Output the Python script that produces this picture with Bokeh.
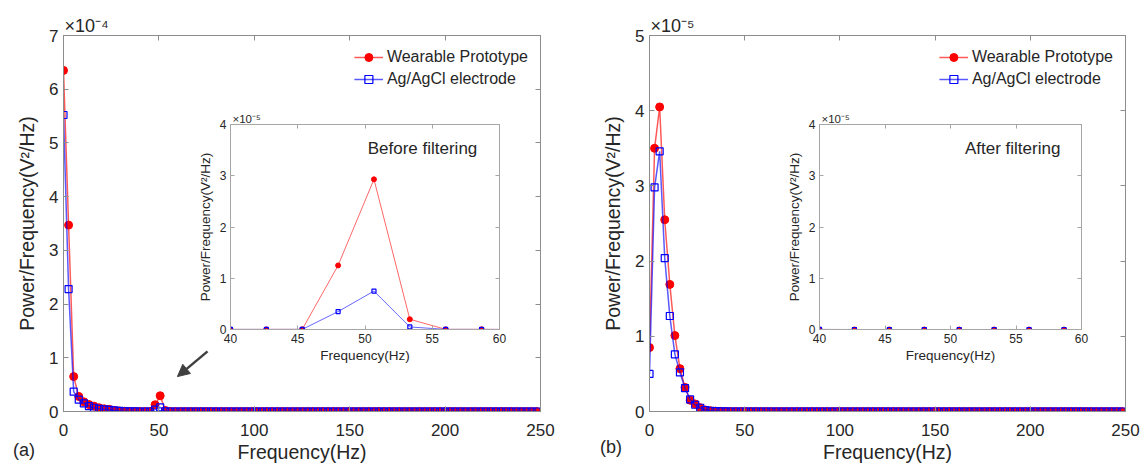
from bokeh.plotting import figure
from bokeh.models import (GridBox, Legend, LegendItem, Label, Arrow, NormalHead,
                          FixedTicker, LinearAxis, CustomJSTickFormatter, Range1d,
                          Title, Div)
from bokeh.embed import file_html
from bokeh.resources import INLINE

# ---------------- data ----------------
freq_step = 8 / 3  # Hz between PSD bins
n_bins = 94

# (a) before filtering, PSD in units of 1e-4 V^2/Hz
wear_a = [6.35, 3.47, 0.65, 0.28, 0.18, 0.13, 0.10, 0.07, 0.05, 0.04,
          0.02, 0.01, 0.005, 0.002, 0.001, 0.0002, 0.0002, 0.0003, 0.125, 0.293,
          0.020, 0.0003, 0.0003, 0, 0, 0, 0, 0, 0, 0,
          0, 0, 0, 0, 0, 0, 0, 0, 0, 0,
          0, 0, 0, 0, 0, 0, 0, 0, 0, 0,
          0, 0, 0, 0, 0, 0, 0, 0, 0, 0,
          0, 0, 0, 0, 0, 0, 0, 0, 0, 0,
          0, 0, 0, 0, 0, 0, 0, 0, 0, 0,
          0, 0, 0, 0, 0, 0, 0, 0, 0, 0,
          0, 0, 0, 0]
agcl_a = [5.52, 2.28, 0.37, 0.22, 0.15, 0.10, 0.07, 0.05, 0.04, 0.03,
          0.02, 0.01, 0.005, 0.002, 0.001, 0.0002, 0.0002, 0.0002, 0.035, 0.075,
          0.005, 0.0002, 0.0002, 0, 0, 0, 0, 0, 0, 0,
          0, 0, 0, 0, 0, 0, 0, 0, 0, 0,
          0, 0, 0, 0, 0, 0, 0, 0, 0, 0,
          0, 0, 0, 0, 0, 0, 0, 0, 0, 0,
          0, 0, 0, 0, 0, 0, 0, 0, 0, 0,
          0, 0, 0, 0, 0, 0, 0, 0, 0, 0,
          0, 0, 0, 0, 0, 0, 0, 0, 0, 0,
          0, 0, 0, 0]
# (b) after filtering, PSD in units of 1e-5 V^2/Hz
wear_b = [0.85, 3.50, 4.05, 2.55, 1.69, 1.01, 0.57, 0.32, 0.15, 0.10,
          0.05, 0.02, 0.01, 0.005, 0.002, 0.001, 0, 0, 0, 0,
          0, 0, 0, 0, 0, 0, 0, 0, 0, 0,
          0, 0, 0, 0, 0, 0, 0, 0, 0, 0,
          0, 0, 0, 0, 0, 0, 0, 0, 0, 0,
          0, 0, 0, 0, 0, 0, 0, 0, 0, 0,
          0, 0, 0, 0, 0, 0, 0, 0, 0, 0,
          0, 0, 0, 0, 0, 0, 0, 0, 0, 0,
          0, 0, 0, 0, 0, 0, 0, 0, 0, 0,
          0, 0, 0, 0]
agcl_b = [0.50, 2.98, 3.46, 2.04, 1.27, 0.76, 0.52, 0.31, 0.16, 0.09,
          0.05, 0.02, 0.01, 0.005, 0.002, 0.001, 0, 0, 0, 0,
          0, 0, 0, 0, 0, 0, 0, 0, 0, 0,
          0, 0, 0, 0, 0, 0, 0, 0, 0, 0,
          0, 0, 0, 0, 0, 0, 0, 0, 0, 0,
          0, 0, 0, 0, 0, 0, 0, 0, 0, 0,
          0, 0, 0, 0, 0, 0, 0, 0, 0, 0,
          0, 0, 0, 0, 0, 0, 0, 0, 0, 0,
          0, 0, 0, 0, 0, 0, 0, 0, 0, 0,
          0, 0, 0, 0]

freq = [i * freq_step for i in range(n_bins)]
series_names = ["Wearable Prototype", "Ag/AgCl electrode"]
x_ticks_main = [0, 50, 100, 150, 200, 250]
y_ticks_a = [0, 1, 2, 3, 4, 5, 6, 7]
y_ticks_b = [0, 1, 2, 3, 4, 5]
x_ticks_inset = [40, 45, 50, 55, 60]
y_ticks_inset = [0, 1, 2, 3, 4]

# ---------------- style ----------------
FONT = "Liberation Sans"
TEXT = "#262626"
RED = "#ff0000"
BLUE = "#0000ff"
blank = "return ''"


def make_fig(w, h, xr, yr, borders, xt, yt, axis_color, tick_len, tick_fs,
             label_fs, xlabel, ylabel, xstand, ystand, xlstand, ylstand,
             border_alpha=1.0):
    p = figure(width=w, height=h, x_range=Range1d(*xr), y_range=Range1d(*yr),
               output_backend="svg", toolbar_location=None,
               min_border_left=borders[0], min_border_right=borders[1],
               min_border_top=borders[2], min_border_bottom=borders[3],
               x_axis_label=xlabel, y_axis_label=ylabel)
    p.grid.visible = False
    p.outline_line_color = axis_color
    p.outline_line_width = 1
    p.background_fill_color = "white"
    p.border_fill_color = "white"
    p.border_fill_alpha = border_alpha
    bx = p.below[0]
    ly = p.left[0]
    bx.ticker = FixedTicker(ticks=xt)
    ly.ticker = FixedTicker(ticks=yt)
    top = LinearAxis(ticker=FixedTicker(ticks=xt),
                     formatter=CustomJSTickFormatter(code=blank))
    right = LinearAxis(ticker=FixedTicker(ticks=yt),
                       formatter=CustomJSTickFormatter(code=blank))
    p.add_layout(top, "above")
    p.add_layout(right, "right")
    for ax in [bx, ly, top, right]:
        ax.axis_line_color = axis_color
        ax.major_tick_line_color = axis_color
        ax.major_tick_in = tick_len
        ax.major_tick_out = 0
        ax.minor_tick_line_color = None
        ax.major_label_text_font = FONT
        ax.major_label_text_font_size = tick_fs
        ax.major_label_text_color = TEXT
        ax.axis_label_text_font = FONT
        ax.axis_label_text_font_size = label_fs
        ax.axis_label_text_font_style = "normal"
        ax.axis_label_text_color = TEXT
    bx.major_label_standoff = xstand
    ly.major_label_standoff = ystand
    bx.axis_label_standoff = xlstand
    ly.axis_label_standoff = ylstand
    for ax in [top, right]:
        ax.major_label_text_font_size = "1px"
        ax.major_label_standoff = 0
    return p


def add_series(p, x, red, blue, lw, rsize, bsize, line_alpha):
    rl = p.line(x, red, line_color=RED, line_width=lw, line_alpha=line_alpha)
    rs = p.scatter(x, red, marker="circle", size=rsize, fill_color=RED,
                   line_color=RED)
    bl = p.line(x, blue, line_color=BLUE, line_width=lw, line_alpha=line_alpha)
    bs = p.scatter(x, blue, marker="square", size=bsize, fill_color=None,
                   line_color=BLUE, line_width=1.2)
    return rl, rs, bl, bs


def add_legend(p, rends, margin):
    rl, rs, bl, bs = rends
    leg = Legend(items=[LegendItem(label=series_names[0], renderers=[rl, rs]),
                        LegendItem(label=series_names[1], renderers=[bl, bs])],
                 location="top_right", margin=margin, padding=0, spacing=2,
                 glyph_width=29, glyph_height=20, label_height=20,
                 label_standoff=4, border_line_color=None,
                 background_fill_alpha=0, label_text_font=FONT,
                 label_text_font_size="16px", label_text_color=TEXT)
    p.add_layout(leg)


def text(p, x, y, s, size, align="left", baseline="middle"):
    p.add_layout(Label(x=x, y=y, text=s, text_font=FONT, text_font_size=size,
                       text_color=TEXT, text_align=align,
                       text_baseline=baseline))


def exponent(p, s, size, offset):
    p.add_layout(Title(text=s, align="left", offset=offset, standoff=0,
                       text_font=FONT, text_font_size=size,
                       text_font_style="normal", text_color=TEXT,
                       vertical_align="bottom"), "above")


def panel_tag(s, left, top):
    return Div(text=(f'<div style="position:relative;left:{left}px;top:{top}px;'
                     f"font-family:'{FONT}';font-size:18px;color:{TEXT};"
                     f'line-height:21px;white-space:nowrap">{s}</div>'),
               width=60, height=30)


YLABEL = "Power/Frequency(V\u00b2/Hz)"
XLABEL = "Frequency(Hz)"

# ---------------- panel (a) ----------------
pa = make_fig(573, 466, (0, 250), (0, 7), (63, 33, 35, 55), x_ticks_main,
              y_ticks_a, "#8c8c8c", 5, "17px", "19.5px", XLABEL, YLABEL,
              12, 5, 2, 8)
ra = add_series(pa, freq, wear_a, agcl_a, 1.5, 8, 7, 0.65)
add_legend(pa, ra, 12)
exponent(pa, "\u00d710\u207b\u2074", "18px", 1)
pa.add_layout(Arrow(end=NormalHead(size=12, fill_color="#404040",
                                   line_color="#404040"),
                    x_start=75.5, y_start=1.12, x_end=59.7, y_end=0.65,
                    line_color="#404040", line_width=2.5))

# inset (a): zoom 40-60 Hz, in units of 1e-5
ia = make_fig(330, 275, (40, 60), (0, 4), (52, 9, 26, 44), x_ticks_inset,
              y_ticks_inset, "#a6a6a6", 4, "12px", "13.5px", XLABEL, YLABEL,
              4, 4, 2, 4, border_alpha=0.0)
add_series(ia, freq, [v * 10 for v in wear_a], [v * 10 for v in agcl_a],
           1, 5, 4, 0.6)
exponent(ia, "\u00d710\u207b\u2075", "11.5px", 2)
text(ia, 50.2, 3.53, "Before filtering", "17px")

# ---------------- panel (b) ----------------
pb = make_fig(573, 466, (0, 250), (0, 5), (76, 21, 31, 55), x_ticks_main,
              y_ticks_b, "#8c8c8c", 5, "17px", "19.5px", XLABEL, YLABEL,
              12, 5, 2, 8)
rb = add_series(pb, freq, wear_b, agcl_b, 1.5, 8, 7, 0.65)
add_legend(pb, rb, 12)
exponent(pb, "\u00d710\u207b\u2075", "18px", 1)

ib = make_fig(325, 275, (40, 60), (0, 4), (51, 12, 26, 42), x_ticks_inset,
              y_ticks_inset, "#a6a6a6", 4, "12px", "13.5px", XLABEL, YLABEL,
              4, 4, 2, 4, border_alpha=0.0)
add_series(ib, freq, wear_b, agcl_b, 1, 5, 4, 0.6)
exponent(ib, "\u00d710\u207b\u2075", "11.5px", 2)
text(ib, 51.1, 3.54, "After filtering", "17px")

tag_a = panel_tag("(a)", 8, -1)
tag_b = panel_tag("(b)", 22, -4)

grid = GridBox(children=[(pa, 0, 0, 4, 3), (pb, 0, 3, 4, 3),
                         (ia, 1, 1, 1, 1), (ib, 1, 4, 1, 1),
                         (tag_a, 3, 0), (tag_b, 3, 3)],
               cols=["178px", "330px", "65px", "195px", "325px", "53px"],
               rows=["98px", "275px", "63px", "30px"], spacing=0)

open("out.html", "w").write(file_html(grid, INLINE))
